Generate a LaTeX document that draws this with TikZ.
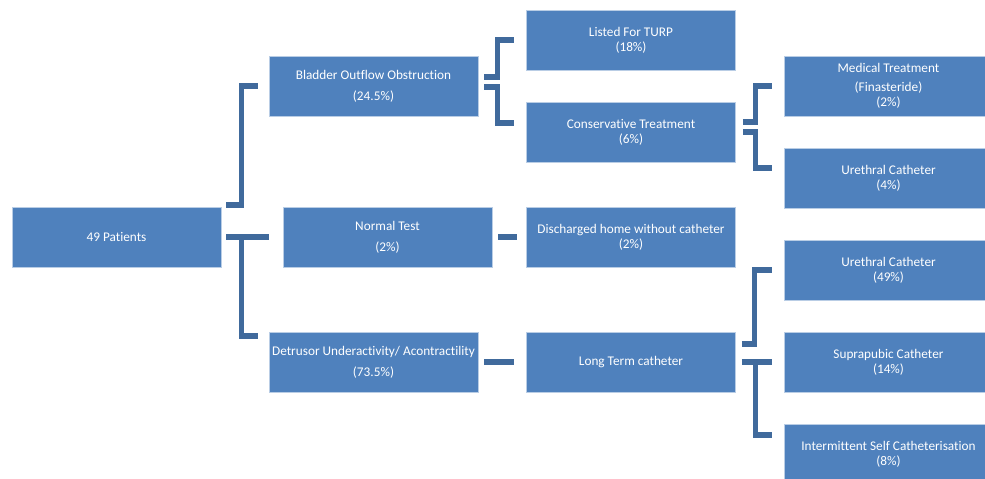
\documentclass[tikz,border=0pt]{standalone}
\usepackage{fontspec}
\setmainfont{Carlito}[Ligatures={NoCommon}]
\usetikzlibrary{calc}
\definecolor{boxblue}{RGB}{79,129,189}
\definecolor{boxline}{RGB}{185,205,229}
\definecolor{brkblue}{RGB}{64,106,156}

\begin{document}
\begin{tikzpicture}[x=0.02cm,y=-0.02cm,
	box/.style={shape=rectangle,fill=boxblue,draw=boxline,line width=0.4pt,minimum width=4.18cm,minimum height=1.2cm,inner sep=0pt,align=center,text=white,font=\fontsize{7.55}{8.5}\selectfont},
	brk/.style={draw=brkblue,line width=2.9pt}]
	\useasboundingbox (0,0) rectangle (985,478);
	\clip (0,0) rectangle (985,478);

	\node[box] (pat)  at (116.5,237) {49 Patients};
	\node[box] (bof)  at (373.5,86)  {Bladder Outflow Obstruction\\[3.4pt](24.5\%)};
	\node[box] (nt)   at (387.5,237) {Normal Test\\[3.4pt](2\%)};
	\node[box] (du)   at (373.5,362) {Detrusor Underactivity/ Acontractility\\[3.4pt](73.5\%)};
	\node[box] (turp) at (631,40)    {Listed For TURP\\(18\%)};
	\node[box] (ct)   at (631,132)   {Conservative Treatment\\(6\%)};
	\node[box] (dh)   at (631,237)   {Discharged home without catheter\\(2\%)};
	\node[box] (lt)   at (631,362)   {Long Term catheter};
	\node[box] (med)  at (888.5,86)  {Medical Treatment\\[2.3pt](Finasteride)\\(2\%)};
	\node[box] (uc4)  at (888.5,178) {Urethral Catheter\\(4\%)};
	\node[box] (uc49) at (888.5,270) {Urethral Catheter\\(49\%)};
	\node[box] (sp)   at (888.5,362) {Suprapubic Catheter\\(14\%)};
	\node[box] (isc)  at (888.5,454) {Intermittent Self Catheterisation\\(8\%)};

	% first split
	\draw[brk] ($(pat.east)+(5,-32)$) -- ++(15,0) |- ($(bof.west)+(-11,0)$);
	\draw[brk] ($(pat.east)+(5,0)$) -- ($(nt.west)+(-14,0)$);
	\draw[brk] ($(pat.east)+(20,0)$) |- ($(du.west)+(-11,-26)$);

	\draw[brk] ($(bof.east)+(6,-9)$) -- ++(13,0) |- ($(turp.west)+(-12,0)$);
	\draw[brk] ($(bof.east)+(6,1)$) -- ++(13,0) |- ($(ct.west)+(-12,-9)$);

	\draw[brk] ($(ct.east)+(7,-10)$) -- ++(13,0) |- ($(med.west)+(-12,0)$);
	\draw[brk] ($(ct.east)+(7,0)$) -- ++(13,0) |- ($(uc4.west)+(-12,-10)$);

	\draw[brk] ($(nt.east)+(6,0)$) -- ($(dh.west)+(-9,0)$);
	\draw[brk] ($(du.east)+(6,0)$) -- ($(lt.west)+(-12,0)$);

	% catheter split
	\draw[brk] ($(lt.east)+(6,-18)$) -- ++(13,0) |- ($(uc49.west)+(-12,0)$);
	\draw[brk] ($(lt.east)+(6,0)$) -- ($(sp.west)+(-12,0)$);
	\draw[brk] ($(lt.east)+(20,0)$) |- ($(isc.west)+(-12,-19)$);
\end{tikzpicture}
\end{document}
